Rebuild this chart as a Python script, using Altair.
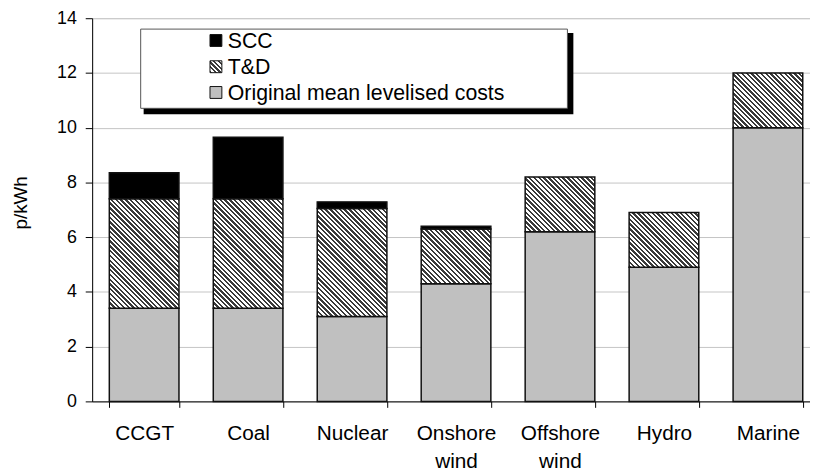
import math
import altair as alt

# ---------------- data ----------------
categories = ["CCGT", "Coal", "Nuclear", "Onshore wind", "Offshore wind", "Hydro", "Marine"]
original_costs = [3.4, 3.4, 3.1, 4.3, 6.2, 4.9, 10.0]
td_costs = [4.0, 4.0, 3.95, 2.0, 2.0, 2.0, 2.0]
scc_costs = [0.95, 2.25, 0.24, 0.1, 0.0, 0.0, 0.0]
series_names = ["Original mean levelised costs", "T&D", "SCC"]
y_ticks = [0, 2, 4, 6, 8, 10, 12, 14]

# ---------------- layout ----------------
PLOT_W = 725          # visible plot width (to the window edge)
STEP = 105            # band step in px
PLOT_H = 387
Y_MAX = 14
PAD_INNER = 0.33
N = len(categories)
PAD_OUTER = (PLOT_W / STEP - N + PAD_INNER) / 2
LEFTOVER = PLOT_W - STEP * (N - PAD_INNER)
ALIGN = (STEP * PAD_INNER / 2) / LEFTOVER
PX_PER_UNIT = PLOT_H / Y_MAX
BAR_W = STEP * (1 - PAD_INNER)

GRAY = "#c0c0c0"
DARK = "#3a3a3a"


def hatch(w, h, period=3.4, duty=0.5):
    """Diagonal '\\' hatch as a linear gradient in bounding-box units."""
    k = (w + h) / (w * w + h * h)
    a, b = w * k, h * k
    length = (w + h) / math.sqrt(2)
    step = period / length
    stops = []
    i = 0
    while i * step < 1:
        t0 = i * step
        t1 = min(1.0, t0 + duty * step)
        t2 = min(1.0, t0 + step)
        stops += [
            {"offset": round(t0, 5), "color": DARK},
            {"offset": round(t1, 5), "color": DARK},
            {"offset": round(t1, 5), "color": "#ffffff"},
            {"offset": round(t2, 5), "color": "#ffffff"},
        ]
        i += 1
    return {"gradient": "linear", "x1": 0, "y1": 1, "x2": round(a, 5), "y2": round(1 - b, 5), "stops": stops}


records = []
for cat, o, t, s in zip(categories, original_costs, td_costs, scc_costs):
    base = 0.0
    for name, val in zip(series_names, [o, t, s]):
        if val <= 0:
            continue
        if name == "T&D":
            fill = hatch(BAR_W, val * PX_PER_UNIT)
        elif name == "SCC":
            fill = "#000000"
        else:
            fill = GRAY
        records.append({"cat": cat, "series": name, "y0": base, "y1": base + val, "fill": fill})
        base += val

bars = alt.Chart(alt.Data(values=records)).mark_bar(
    stroke="#111111", strokeWidth=1.5
).encode(
    x=alt.X(
        "cat:N",
        sort=categories,
        scale=alt.Scale(paddingInner=PAD_INNER, paddingOuter=round(PAD_OUTER, 5), align=round(ALIGN, 5)),
        axis=alt.Axis(
            title=None,
            labelAngle=0,
            labelFont="Liberation Sans",
            labelFontSize=21,
            labelColor="#000000",
            labelExpr="split(datum.label, ' ')",
            labelLineHeight=29,
            labelPadding=15,
            tickBand="extent",
            tickSize=6,
            tickColor="#000000",
            domainColor="#000000",
            domainWidth=1,
            grid=False,
        ),
    ),
    y=alt.Y(
        "y0:Q",
        scale=alt.Scale(domain=[0, Y_MAX], nice=False),
        axis=alt.Axis(
            title="p/kWh",
            titleFont="Liberation Sans",
            titleFontSize=19,
            titleFontWeight="normal",
            titleColor="#000000",
            titlePadding=26,
            titleY=186,
            values=y_ticks,
            labelFont="Liberation Sans",
            labelFontSize=18,
            labelColor="#000000",
            labelPadding=9,
            tickSize=7,
            tickColor="#000000",
            domainColor="#000000",
            grid=True,
            gridColor="#c4c4c4",
            gridWidth=1,
        ),
    ),
    y2="y1:Q",
    fill=alt.Fill("fill:N", scale=None, legend=None),
)

# ---------------- legend (drawn by hand, with shadow) ----------------
legend_shadow = alt.Chart().mark_rect(fill="#000000").encode(
    x=alt.value(52), x2=alt.value(486), y=alt.value(15), y2=alt.value(97)
)
legend_box = alt.Chart().mark_rect(fill="#ffffff", stroke="#555555", strokeWidth=1).encode(
    x=alt.value(49), x2=alt.value(480), y=alt.value(11), y2=alt.value(91)
)

legend_rows = [
    ("SCC", "#000000", 22.5),
    ("T&D", hatch(12, 12), 49.0),
    ("Original mean levelised costs", GRAY, 75.0),
]
legend_layers = [legend_shadow, legend_box]
for label, fill, yc in legend_rows:
    sq = alt.Chart(alt.Data(values=[{"f": fill}])).mark_rect(stroke="#111111", strokeWidth=1).encode(
        x=alt.value(119), x2=alt.value(131), y=alt.value(yc - 6), y2=alt.value(yc + 6),
        fill=alt.Fill("f:N", scale=None, legend=None),
    )
    tx = alt.Chart(alt.Data(values=[{"t": label}])).mark_text(
        align="left", baseline="alphabetic", font="Liberation Sans", fontSize=21.5, color="#000000"
    ).encode(x=alt.value(137), y=alt.value(yc + 7.5), text="t:N")
    legend_layers += [sq, tx]

chart = alt.layer(bars, *legend_layers).properties(
    width=PLOT_W,
    height=PLOT_H,
    autosize=alt.AutoSizeParams(type="none"),
    padding={"left": 85, "top": 8, "right": 0, "bottom": 70},
).configure_view(stroke=None).configure(background="#ffffff")

chart.save("out.html", embed_options={"renderer": "svg", "actions": False})
